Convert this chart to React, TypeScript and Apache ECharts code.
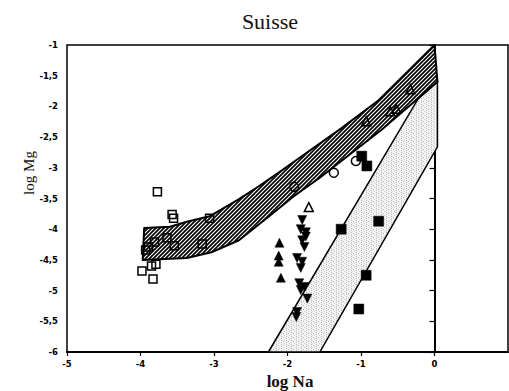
import React, { useEffect, useRef } from "react";
import * as echarts from "echarts";

const xTicks = [-5, -4, -3, -2, -1, 0, 1];
const yTicks = [-6, -5.5, -5, -4.5, -4, -3.5, -3, -2.5, -2, -1.5, -1];

// hatched band: upper edge (left to right) and lower edge (left to right)
const hatchUpper = [
  [-3.95, -3.98], [-3.6, -3.96], [-3.37, -3.88], [-3.06, -3.79], [-2.66, -3.51],
  [-2.39, -3.3], [-2.11, -3.07], [-1.84, -2.84], [-1.26, -2.35], [-0.76, -1.9], [0.0, -1.0],
];
const hatchLower = [
  [-3.97, -4.5], [-3.37, -4.47], [-3.02, -4.37], [-2.66, -4.18], [-2.25, -3.79],
  [-1.91, -3.46], [-1.57, -3.17], [-0.72, -2.38], [0.04, -1.6],
];
// dotted band
const dotBand = [[-2.26, -6], [-0.22, -1.87], [0.04, -1.6], [0.04, -2.66], [-1.56, -6]];

const openSquares = [
  [-3.77, -3.39], [-3.57, -3.76], [-3.55, -3.82], [-3.06, -3.82], [-3.81, -4.21],
  [-3.64, -4.14], [-3.54, -4.27], [-3.89, -4.29], [-3.93, -4.34], [-3.16, -4.24],
  [-3.98, -4.68], [-3.85, -4.6], [-3.79, -4.57], [-3.83, -4.81],
];
const openCircles = [[-1.91, -3.31], [-1.37, -3.08], [-1.07, -2.89]];
const openTriangles = [[-1.71, -3.64], [-0.93, -2.24], [-0.6, -2.08], [-0.52, -2.04], [-0.33, -1.72]];
const filledUp = [[-2.11, -4.22], [-2.12, -4.43], [-2.12, -4.53], [-2.09, -4.79]];
const filledDown = [
  [-1.8, -3.85], [-1.82, -4.0], [-1.75, -4.05], [-1.75, -4.12], [-1.8, -4.18],
  [-1.77, -4.29], [-1.87, -4.47], [-1.8, -4.53], [-1.82, -4.63], [-1.84, -4.88],
  [-1.77, -4.94], [-1.82, -4.99], [-1.73, -5.13], [-1.87, -5.35], [-1.88, -5.43],
];
const filledSquares = [[-1.27, -4.0], [-0.76, -3.87], [-0.93, -4.75], [-1.03, -5.3], [-0.99, -2.81], [-0.92, -2.97]];

function makeHatch(): string {
  const c = document.createElement("canvas");
  c.width = 4;
  c.height = 4;
  const ctx = c.getContext("2d")!;
  ctx.fillStyle = "#fff";
  ctx.fillRect(0, 0, 4, 4);
  ctx.strokeStyle = "#000";
  ctx.lineWidth = 1.7;
  ctx.beginPath();
  ctx.moveTo(-1, 5); ctx.lineTo(5, -1);
  ctx.moveTo(-1, 1); ctx.lineTo(1, -1);
  ctx.moveTo(3, 5); ctx.lineTo(5, 3);
  ctx.stroke();
  return c.toDataURL();
}

function makeStipple(): string {
  const c = document.createElement("canvas");
  c.width = 5;
  c.height = 4;
  const ctx = c.getContext("2d")!;
  ctx.fillStyle = "#f3f3f3";
  ctx.fillRect(0, 0, 5, 4);
  ctx.fillStyle = "#b8b8b8";
  ctx.fillRect(1, 0, 1, 1);
  ctx.fillRect(1, 2, 1, 1);
  ctx.fillRect(3, 1, 1, 1);
  ctx.fillStyle = "#d0d0d0";
  ctx.fillRect(4, 3, 1, 1);
  return c.toDataURL();
}

export default function App() {
  const ref = useRef<HTMLDivElement>(null);
  useEffect(() => {
    const chart = echarts.init(ref.current!, null, { renderer: "svg" });
    const hatchUrl = makeHatch();
    const stippleUrl = makeStipple();
    const hatchPoly = [...hatchUpper, ...hatchLower.slice().reverse()];
    const polySeries = (pts: number[][], style: any, z: number) => ({
      type: "custom",
      data: [[0, 0]],
      z,
      silent: true,
      renderItem: (_p: any, api: any) => ({
        type: "polygon",
        shape: { points: pts.map((p) => api.coord(p)) },
        style,
      }),
    });
    const sc = (data: number[][], symbol: string, size: number, filled: boolean, rotate = 0) => ({
      type: "scatter",
      data,
      symbol,
      symbolSize: size,
      symbolRotate: rotate,
      z: 5,
      itemStyle: {
        color: filled ? "#000" : "rgba(0,0,0,0)",
        borderColor: "#000",
        borderWidth: filled ? 0.5 : 1.5,
        opacity: 1,
      },
    });
    const fmt = (v: number) => String(v).replace(".", ",");
    chart.setOption({
      animation: false,
      grid: { left: 67, right: 1, top: 45, bottom: 39, show: true, borderColor: "#000", borderWidth: 1.5 },
      xAxis: {
        type: "value", min: xTicks[0], max: xTicks[xTicks.length - 1], interval: 1,
        axisLine: { lineStyle: { color: "#000", width: 2 } },
        axisTick: { inside: false, length: 4, lineStyle: { color: "#000", width: 1.2 } },
        splitLine: { show: false },
        axisLabel: {
          showMaxLabel: false, margin: 7, color: "#000", fontFamily: "DejaVu Sans",
          fontWeight: "bold", fontSize: 8.5, formatter: fmt,
        },
      },
      yAxis: {
        type: "value", min: yTicks[0], max: yTicks[yTicks.length - 1], interval: 0.5,
        axisLine: { lineStyle: { color: "#000", width: 2 } },
        axisTick: { inside: false, length: 5, lineStyle: { color: "#000", width: 1.2 } },
        splitLine: { show: false },
        axisLabel: {
          margin: 9, color: "#000", fontFamily: "DejaVu Sans",
          fontWeight: "bold", fontSize: 8.5, formatter: fmt,
        },
      },
      graphic: [
        { type: "text", x: 270, y: 21, style: { text: "Suisse", font: '22px "Liberation Serif"', fill: "#111", align: "center", verticalAlign: "middle", textAlign: "center", textVerticalAlign: "middle" } },
        { type: "text", x: 290, y: 381, style: { text: "log Na", font: 'bold 17px "Liberation Serif"', fill: "#111", align: "center", verticalAlign: "middle", textAlign: "center", textVerticalAlign: "middle" } },
        { type: "text", x: 29, y: 173, rotation: Math.PI / 2, style: { text: "log Mg", font: '15px "Liberation Serif"', fill: "#111", align: "center", verticalAlign: "middle", textAlign: "center", textVerticalAlign: "middle" } },
      ],
      series: [
        polySeries(dotBand, {
          fill: { image: stippleUrl, repeat: "repeat", imageWidth: 5, imageHeight: 4 },
          stroke: "#000", lineWidth: 1.5,
        }, 1),
        polySeries(hatchPoly, {
          fill: { image: hatchUrl, repeat: "repeat", imageWidth: 4, imageHeight: 4 },
          stroke: "#000", lineWidth: 2, lineJoin: "round",
        }, 2),
        sc(openSquares, "rect", 8, false),
        sc(openCircles, "circle", 9, false),
        sc(openTriangles, "triangle", 9, false),
        sc(filledUp, "triangle", 9, true),
        sc(filledDown, "triangle", 9, true, 180),
        sc(filledSquares, "rect", 10, true),
      ],
    });
    return () => chart.dispose();
  }, []);
  return <div ref={ref} style={{ position: "fixed", left: 0, top: 0, width: 509, height: 391, background: "#fff" }} />;
}
